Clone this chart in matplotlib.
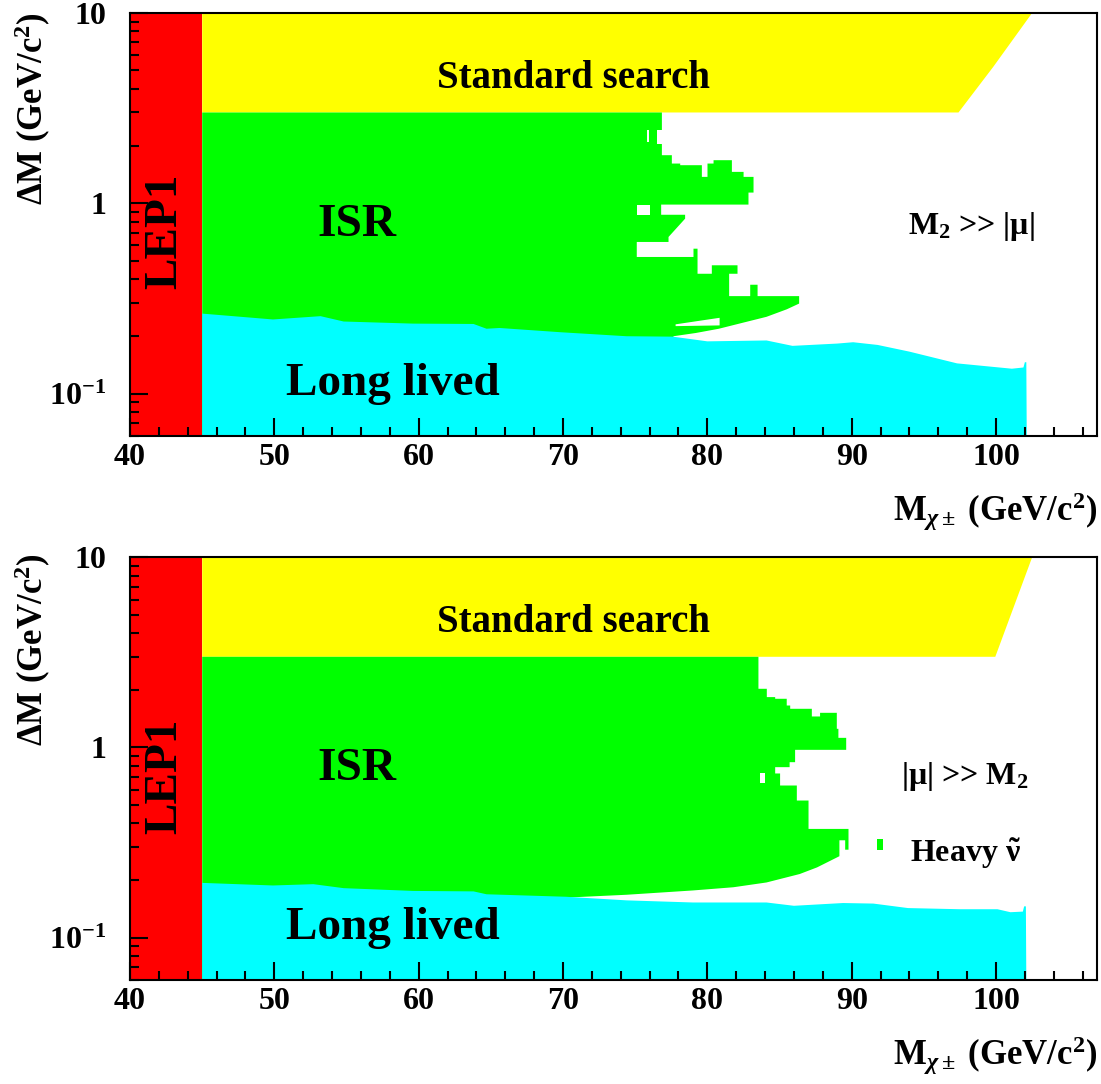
import matplotlib
matplotlib.use('Agg')
import matplotlib.pyplot as plt
from matplotlib.ticker import MultipleLocator, LogLocator, NullFormatter

plt.rcParams['font.family'] = 'Liberation Serif'
plt.rcParams['font.weight'] = 'bold'
plt.rcParams['mathtext.fontset'] = 'custom'
plt.rcParams['mathtext.rm'] = 'Liberation Serif:bold'
plt.rcParams['mathtext.bf'] = 'Liberation Serif:bold'
plt.rcParams['mathtext.it'] = 'Liberation Serif:italic'

XMIN, XMAX = 40, 107
YMIN, YMAX = 0.0598, 10
LEP1_M = 45

# ---- top panel (M2 >> |mu|) ----
top_yellow_m = [45, 45, 102.5, 99.8, 97.4]
top_yellow_dm = [3.0, 10, 10, 5.2, 3.0]

top_green_m = [45, 76.85, 76.85, 77.54, 77.54, 78.12, 78.12, 79.62, 79.62, 80.01,
               80.01, 80.43, 80.43, 81.70, 81.70, 82.51, 82.51, 83.20, 83.20, 82.85,
               82.85, 76.8, 76.8, 78.46, 78.46, 77.31, 77.31, 75.11, 75.11, 79.04,
               79.04, 79.32, 79.32, 80.31, 80.31, 82.09, 82.09, 81.51, 81.51, 82.97,
               82.97, 83.48, 83.48, 86.36, 86.36, 85.5, 84.1, 82.7, 80.8, 79.2, 77.65]
top_green_dm = [3.0, 3.0, 1.789, 1.789, 1.617, 1.617, 1.585, 1.585, 1.376, 1.376,
                1.617, 1.617, 1.684, 1.684, 1.462, 1.462, 1.376, 1.376, 1.138, 1.138,
                0.984, 0.984, 0.87, 0.87, 0.83, 0.665, 0.626, 0.626, 0.522, 0.522,
                0.577, 0.577, 0.426, 0.426, 0.472, 0.472, 0.426, 0.426, 0.325, 0.325,
                0.373, 0.373, 0.325, 0.325, 0.297, 0.277, 0.253, 0.238, 0.219, 0.208, 0.200]

top_cyan_m = [45, 49.9, 53.2, 54.8, 59.6, 63.8, 64.7, 65.6, 69.8, 74.4, 77.6, 80.0,
              84.1, 85.9, 89.0, 90.1, 91.8, 94.0, 97.3, 101.1, 101.9, 102.0, 102.1]
top_cyan_dm = [0.263, 0.245, 0.255, 0.239, 0.233, 0.232, 0.219, 0.221, 0.210, 0.200,
               0.199, 0.188, 0.190, 0.178, 0.183, 0.186, 0.180, 0.166, 0.144, 0.135,
               0.137, 0.146, 0.146]

top_holes = [
    ([77.8, 80.85, 80.85, 77.8], [0.226, 0.228, 0.250, 0.231]),
    ([75.11, 76.04, 76.04, 75.11], [0.87, 0.87, 0.976, 0.976]),
    ([76.5, 76.85, 76.85, 76.5], [2.06, 2.06, 2.42, 2.42]),
    ([75.8, 75.95, 75.95, 75.8], [2.1, 2.1, 2.42, 2.42]),
]
top_islands = []

# ---- bottom panel (|mu| >> M2) ----
bot_yellow_m = [45, 45, 102.5, 99.95]
bot_yellow_dm = [3.0, 10, 10, 3.0]

bot_green_m = [45, 83.54, 83.54, 84.12, 84.12, 84.70, 84.70, 85.50, 85.50, 85.74,
               85.74, 87.24, 87.24, 87.81, 87.81, 88.97, 88.97, 89.08, 89.08, 89.62,
               89.62, 86.08, 86.08, 85.7, 85.7, 84.7, 84.7, 85.04, 85.04, 86.20,
               86.20, 87.01, 87.01, 89.78, 89.78, 89.55, 89.55, 89.15, 89.15,
               87.6, 86.4, 84.1, 81.8, 79.0, 74.4, 70.0]
bot_green_dm = [3.0, 3.0, 2.036, 2.036, 1.841, 1.841, 1.804, 1.804, 1.663, 1.663,
                1.598, 1.598, 1.456, 1.456, 1.522, 1.522, 1.254, 1.254, 1.124, 1.124,
                0.972, 0.972, 0.837, 0.837, 0.788, 0.788, 0.73, 0.73, 0.631, 0.631,
                0.526, 0.526, 0.373, 0.373, 0.29, 0.29, 0.325, 0.325, 0.268,
                0.234, 0.216, 0.195, 0.184, 0.177, 0.168, 0.162]

bot_cyan_m = [45, 49.9, 52.7, 54.8, 59.6, 63.8, 64.7, 70.2, 74.4, 79.0, 84.1, 86.0,
              89.4, 91.5, 93.9, 97.5, 100.1, 101.0, 101.86, 101.95, 102.07]
bot_cyan_dm = [0.194, 0.188, 0.191, 0.182, 0.176, 0.175, 0.169, 0.164, 0.157, 0.153,
               0.153, 0.147, 0.152, 0.151, 0.143, 0.141, 0.141, 0.136, 0.137, 0.146, 0.146]

bot_holes = [
    ([83.66, 84.0, 84.0, 83.66], [0.65, 0.65, 0.73, 0.73]),
]
bot_islands = [
    ([91.74, 92.15, 92.15, 91.74], [0.289, 0.289, 0.329, 0.329]),
]

RED, YELLOW, GREEN, CYAN = '#ff0000', '#ffff00', '#00ff00', '#00ffff'


def draw_panel(ax, ym, ydm, gm, gdm, cm, cdm, holes, islands):
    ax.set_xscale('linear')
    ax.set_yscale('log')
    ax.set_xlim(XMIN, XMAX)
    ax.set_ylim(YMIN, YMAX)
    ax.fill([XMIN, LEP1_M, LEP1_M, XMIN], [YMIN, YMIN, YMAX, YMAX], color=RED, lw=0)
    ax.fill(ym, ydm, color=YELLOW, lw=0)
    gx = gm + [gm[-1], LEP1_M]
    gy = gdm + [YMIN, YMIN]
    ax.fill(gx, gy, color=GREEN, lw=0)
    for hx, hy in holes:
        ax.fill(hx, hy, color='white', lw=0)
    for ix, iy in islands:
        ax.fill(ix, iy, color=GREEN, lw=0)
    cx = cm + [cm[-1] + 0.03, LEP1_M]
    cy = cdm + [YMIN, YMIN]
    ax.fill(cx, cy, color=CYAN, lw=0)

    ax.set_yticks([0.1, 1, 10])
    ax.set_yticklabels([r'$\mathbf{10^{-1}}$', '1', '10'])
    ax.yaxis.set_minor_locator(LogLocator(base=10, subs=range(2, 10)))
    ax.yaxis.set_minor_formatter(NullFormatter())
    ax.xaxis.set_major_locator(MultipleLocator(10))
    ax.xaxis.set_minor_locator(MultipleLocator(2))
    ax.tick_params(which='both', direction='in', top=False, right=False,
                   width=1.5, labelsize=23)
    ax.tick_params(which='major', length=13)
    ax.tick_params(which='minor', length=6.5)
    ax.tick_params(axis='y', pad=17)
    ax.tick_params(axis='x', pad=5)
    for s in ax.spines.values():
        s.set_linewidth(1.5)
    for lab in ax.get_xticklabels() + ax.get_yticklabels():
        lab.set_fontweight('bold')

    ax.text(42.45, 0.71, 'LEP1', rotation=90, fontsize=34, ha='center', va='center')
    ax.text(70.7, 4.05, 'Standard search', fontsize=28, ha='center', va='baseline')
    ax.text(55.7, 0.675, 'ISR', fontsize=34, ha='center', va='baseline')
    ax.text(58.2, 0.098, 'Long lived', fontsize=34, ha='center', va='baseline')


fig = plt.figure(figsize=(11.01, 10.84), dpi=100)
ax1 = fig.add_axes([0.1181, 0.5978, 0.8783, 0.3902])
ax2 = fig.add_axes([0.1181, 0.0959, 0.8783, 0.3899])

draw_panel(ax1, top_yellow_m, top_yellow_dm, top_green_m, top_green_dm,
           top_cyan_m, top_cyan_dm, top_holes, top_islands)
draw_panel(ax2, bot_yellow_m, bot_yellow_dm, bot_green_m, bot_green_dm,
           bot_cyan_m, bot_cyan_dm, bot_holes, bot_islands)

ax1.text(93.9, 0.687, r'M$_\mathbf{2}$ >> |μ|', fontsize=23, ha='left', va='baseline')
ax2.text(93.4, 0.641, r'|μ| >> M$_\mathbf{2}$', fontsize=23, ha='left', va='baseline')
ax2.text(94.05, 0.25, r'Heavy $\tilde{\mathrm{\nu}}$', fontsize=23, ha='left', va='baseline')

xlab = r'M$_{\chi\pm}$ (GeV/c$^\mathbf{2}$)'
ylab = r'$\Delta$M (GeV/c$^\mathbf{2}$)'
fig.text(0.9964, 1 - 521 / 1084, xlab, fontsize=25, ha='right', va='baseline')
fig.text(0.9964, 1 - 1065 / 1084, xlab, fontsize=25, ha='right', va='baseline')
fig.text(33 / 1101, 1 - 12 / 1084, ylab, fontsize=25, rotation=90, ha='center', va='top')
fig.text(33 / 1101, 1 - 553 / 1084, ylab, fontsize=25, rotation=90, ha='center', va='top')

fig.savefig('out.png', dpi=100)
